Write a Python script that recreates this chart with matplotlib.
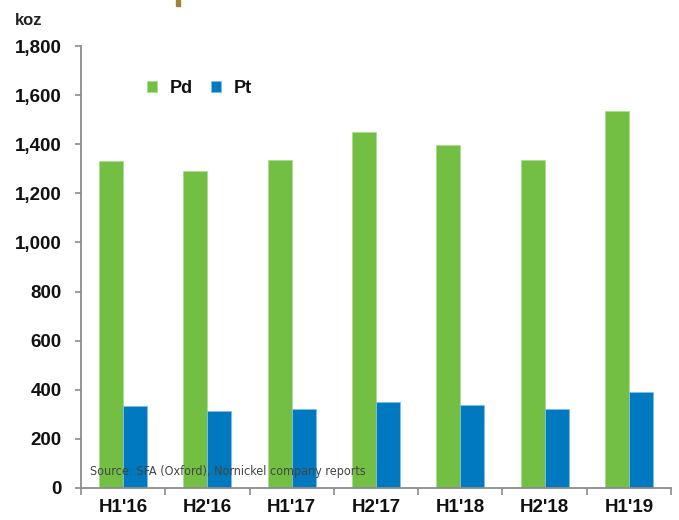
import matplotlib
matplotlib.use("Agg")
import matplotlib.pyplot as plt
import numpy as np
from matplotlib.patches import Rectangle

# Half-year periods and production volumes (koz)
periods = ["H1'16", "H2'16", "H1'17", "H2'17", "H1'18", "H2'18", "H1'19"]
pd_values = [1333, 1291, 1336, 1450, 1398, 1336, 1535]
pt_values = [335, 313, 323, 351, 339, 321, 390]
y_ticks = [0, 200, 400, 600, 800, 1000, 1200, 1400, 1600, 1800]

GREEN = "#72bf44"
BLUE = "#0079c1"
AXIS_GREY = "#8c8c8c"
FONT = ["Liberation Sans", "DejaVu Sans"]

W, H = 679, 520
fig = plt.figure(figsize=(W / 100, H / 100), dpi=100)
ax = fig.add_axes([81 / W, 32 / H, 590 / W, 442 / H])

x = np.arange(len(periods))
bw = 0.285
ax.bar(x - bw / 2, pd_values, width=bw, color=GREEN, edgecolor="#a9dc8c",
       linewidth=0.6, label="Pd", zorder=2)
ax.bar(x + bw / 2, pt_values, width=bw, color=BLUE, edgecolor="#7fbfe6",
       linewidth=0.6, label="Pt", zorder=2)

ax.set_xlim(-0.5, len(periods) - 0.5)
ax.set_ylim(0, 1800)

for side in ("top", "right"):
    ax.spines[side].set_visible(False)
for side in ("left", "bottom"):
    ax.spines[side].set_color(AXIS_GREY)
    ax.spines[side].set_linewidth(1.3)

ax.set_yticks(y_ticks)
ax.set_yticklabels([f"{v:,}" for v in y_ticks])
ax.tick_params(axis="y", direction="out", length=4, width=1.2, color=AXIS_GREY,
               pad=10, labelsize=13.5)

# category separators as x ticks, labels centred beneath each group
ax.set_xticks(np.arange(len(periods) + 1) - 0.5)
ax.set_xticklabels([])
ax.set_xticks(x, minor=True)
ax.set_xticklabels(periods, minor=True)
ax.tick_params(axis="x", which="major", direction="out", length=5, width=1.2,
               color=AXIS_GREY)
ax.tick_params(axis="x", which="minor", length=0, pad=8, labelsize=13.5)

for lbl in ax.get_yticklabels() + ax.get_xticklabels(minor=True):
    lbl.set_family(FONT)
    lbl.set_fontweight("bold")
    lbl.set_color("#111111")

fig.text(15 / W, 1 - 25 / H, "koz", family=FONT, fontweight="bold",
         fontsize=12, color="#222222", ha="left", va="baseline")

leg = ax.legend(loc="upper left", bbox_to_anchor=(147 / W, 1 - 80 / H),
                bbox_transform=fig.transFigure, ncol=2, frameon=False,
                handlelength=0.55, handleheight=0.55, handletextpad=0.7,
                columnspacing=1.0, borderaxespad=0, borderpad=0,
                prop={"family": FONT, "weight": "bold", "size": 13})
for t in leg.get_texts():
    t.set_color("#111111")

ax.text(9 / 590, 16 / 442, "Source: SFA (Oxford), Nornickel company reports",
        transform=ax.transAxes, family="DejaVu Sans", fontstretch="condensed",
        fontsize=9, color="#444444", ha="left", va="center", zorder=5)

# small header accent at the top edge
fig.patches.append(Rectangle((176 / W, 1 - 6 / H), 4 / W, 6 / H,
                             transform=fig.transFigure, color="#a0823a"))

fig.savefig("out.png", dpi=100)
